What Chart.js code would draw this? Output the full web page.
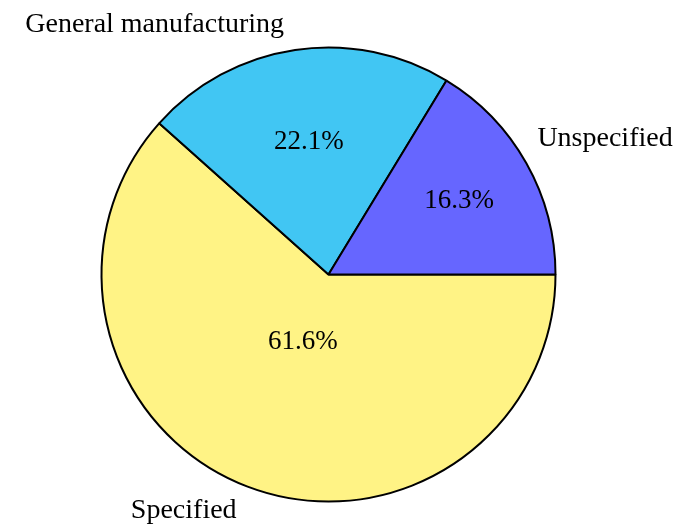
<!DOCTYPE html>
<html>
<head>
<meta charset="utf-8">
<script src="https://cdn.jsdelivr.net/npm/chart.js@4/dist/chart.umd.min.js"></script>
<style>
    html, body { margin: 0; padding: 0; background: #ffffff; }
    #wrap { width: 679px; height: 524px; }
</style>
</head>
<body>
<div id="wrap"><canvas id="pie-chart"></canvas></div>
<script>
// drawn clockwise from 3 o'clock, so the order is reversed from the picture
const categories = ['Specified', 'General manufacturing', 'Unspecified'];
const shares = [61.6, 22.1, 16.3];
const sliceColors = ['#fff385', '#41c6f3', '#6666ff'];

const pieLabels = {
    id: 'pieLabels',
    afterDatasetsDraw(chart, args, opts) {
        const ctx = chart.ctx;
        const arcs = chart.getDatasetMeta(0).data;
        ctx.save();
        ctx.fillStyle = '#000000';
        ctx.textBaseline = 'middle';
        arcs.forEach((arc, i) => {
            const p = arc.getProps(['x', 'y', 'startAngle', 'endAngle', 'outerRadius'], true);
            const mid = (p.startAngle + p.endAngle) / 2;
            const cos = Math.cos(mid);
            const sin = Math.sin(mid);

            // percentage inside the slice
            const d = opts.pctDistance[i] * p.outerRadius;
            ctx.font = opts.pctFont;
            ctx.textAlign = 'center';
            ctx.fillText(shares[i].toFixed(1) + '%', p.x + cos * d, p.y + sin * d);

            // category name outside the rim
            const ex = p.x + cos * p.outerRadius;
            const ey = p.y + sin * p.outerRadius;
            ctx.font = opts.nameFont;
            ctx.textAlign = cos >= 0 ? 'left' : 'right';
            ctx.fillText(categories[i], ex + (cos >= 0 ? 11 : -11), ey + (sin >= 0 ? 24 : -25));
        });
        ctx.restore();
    },
};

new Chart(document.getElementById('pie-chart'), {
    type: 'pie',
    data: {
        labels: categories,
        datasets: [{
            data: shares,
            backgroundColor: sliceColors,
            borderColor: '#000000',
            borderWidth: 2,
            radius: 227,
        }],
    },
    options: {
        responsive: true,
        maintainAspectRatio: false,
        animation: false,
        rotation: 90,
        layout: {
            padding: { left: 80, right: 102, top: 30, bottom: 5 },
        },
        plugins: {
            legend: { display: false },
            tooltip: { enabled: false },
            pieLabels: {
                pctDistance: [0.317, 0.59, 0.66],
                pctFont: '27px "Liberation Serif"',
                nameFont: '28px "Liberation Serif"',
            },
        },
    },
    plugins: [pieLabels],
});
</script>
</body>
</html>
